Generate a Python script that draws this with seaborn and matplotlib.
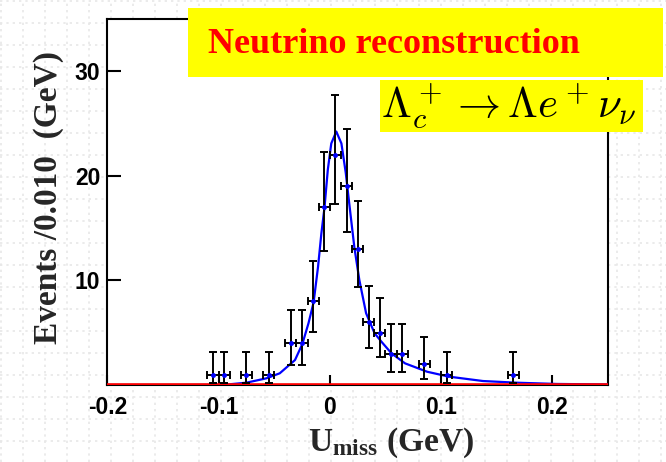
"""
plot.py
Missing-energy (U_miss) distribution with fit, Lambda_c -> Lambda e nu
"""

import matplotlib
matplotlib.use("Agg")
import matplotlib.pyplot as plt
from matplotlib.patches import Rectangle
import numpy as np
import seaborn as sns

# Histogram, bin width 0.010 GeV
BIN_CENTERS = [-0.105, -0.095, -0.075, -0.055, -0.035, -0.025, -0.015, -0.005,
               0.005, 0.015, 0.025, 0.035, 0.045, 0.055, 0.065, 0.085, 0.105, 0.165]
COUNTS = [1, 1, 1, 1, 4, 4, 8, 17, 22, 19, 13, 6, 5, 3, 3, 2, 1, 1]
ERR_LOW = [0.83, 0.83, 0.83, 0.83, 2.1, 2.1, 2.9, 4.2, 4.7, 4.4, 3.65,
           2.5, 2.3, 1.8, 1.8, 1.45, 0.83, 0.83]
ERR_HIGH = [2.2, 2.2, 2.2, 2.2, 3.18, 3.18, 3.87, 5.27, 5.75, 5.5, 4.6,
            3.5, 3.3, 2.84, 2.84, 2.6, 2.2, 2.2]
BIN_HALF_WIDTH = 0.005

# Fit curve
FIT_X = [-0.200, -0.130, -0.110, -0.094, -0.075, -0.057, -0.045, -0.0313,
         -0.0247, -0.0192, -0.0146, -0.0106, -0.0076, -0.0048, -0.0018, 0.0013,
         0.0058, 0.0104, 0.0143, 0.0174, 0.022, 0.0265, 0.0326, 0.0402, 0.0463,
         0.0554, 0.0676, 0.0874, 0.107, 0.1376, 0.168, 0.204, 0.250]
FIT_Y = [0.0, 0.0, 0.01, 0.03, 0.22, 0.64, 1.12, 2.39,
         3.92, 5.9, 7.9, 11.3, 14.5, 16.97, 20.6, 23.1,
         24.24, 23.1, 20.3, 17.4, 13.2, 10.05, 6.86, 4.95, 4.15,
         3.03, 2.07, 1.27, 0.8, 0.38, 0.22, 0.1, 0.05]

# Background component (flat, zero)
BKG_X = [-0.2, 0.25]
BKG_Y = [0.0, 0.0]

X_TICKS = [-0.2, -0.1, 0.0, 0.1, 0.2]
X_TICK_LABELS = ["-0.2", "-0.1", "0", "0.1", "0.2"]
Y_TICKS = [10, 20, 30]
Y_TICK_LABELS = ["10", "20", "30"]

W, H = 666, 462


def fig_box(x0, y0, x1, y1):
    """pixel box (top-left origin) -> figure fraction rect"""
    return [x0 / W, 1 - y1 / H, (x1 - x0) / W, (y1 - y0) / H]


def draw_background(fig):
    # faint dotted slide grid behind everything
    bg = fig.add_axes([0, 0, 1, 1], zorder=0)
    bg.set_xlim(0, W)
    bg.set_ylim(H, 0)
    bg.axis("off")
    for v in np.arange(1, W, 22):
        bg.axvline(v, color="#e8e8e8", lw=1.2, ls=(0, (1.4, 2.4)))
    for h in np.arange(1, H, 22):
        bg.axhline(h, color="#e8e8e8", lw=1.2, ls=(0, (1.4, 2.4)))


def add_banner(fig, box, text, **kw):
    x0, y0, w, h = fig_box(*box)
    fig.add_artist(Rectangle((x0, y0), w, h, transform=fig.transFigure,
                             facecolor="#ffff00", edgecolor="none", zorder=10))


def main():
    sns.set_style("ticks")
    plt.rcParams["mathtext.rm"] = "Liberation Serif:bold"
    plt.rcParams["mathtext.it"] = "Liberation Serif:bold"
    plt.rcParams["mathtext.bf"] = "Liberation Serif:bold"

    fig = plt.figure(figsize=(W / 100, H / 100), dpi=100)
    fig.patch.set_facecolor("white")
    draw_background(fig)

    ax = fig.add_axes(fig_box(107.3, 19, 608, 385), zorder=1)
    ax.set_facecolor("white")

    sns.lineplot(x=FIT_X, y=FIT_Y, ax=ax, color="blue", lw=1.6, zorder=3)
    sns.lineplot(x=BKG_X, y=BKG_Y, ax=ax, color="red", lw=2.6, zorder=4)
    ax.errorbar(BIN_CENTERS, COUNTS, yerr=[ERR_LOW, ERR_HIGH], xerr=BIN_HALF_WIDTH,
                fmt="o", ms=2.5, color="blue", ecolor="black", elinewidth=1.4,
                capsize=3, capthick=1.4, zorder=5)

    ax.set_xlim(-0.2, 0.25)
    ax.set_ylim(0, 35)
    ax.set_xticks(X_TICKS)
    ax.set_xticklabels(X_TICK_LABELS)
    ax.set_yticks(Y_TICKS)
    ax.set_yticklabels(Y_TICK_LABELS)
    for lab in ax.get_xticklabels() + ax.get_yticklabels():
        lab.set_family("Liberation Sans")
        lab.set_fontweight("bold")
        lab.set_fontsize(16.5)
    ax.tick_params(axis="both", direction="in", width=1.5, colors="black")
    ax.tick_params(axis="x", length=7, pad=8)
    ax.tick_params(axis="y", length=10, pad=5)
    for sp in ax.spines.values():
        sp.set_linewidth(1.5)
        sp.set_color("black")

    ax.set_ylabel("Events /0.010  (GeV)", family="Liberation Serif",
                  fontweight="bold", fontsize=24, va="center")
    ax.yaxis.set_label_coords(-0.1184, 0.512)
    ax.set_xlabel(r"$\mathbf{U_{miss}\ (GeV)}$", fontsize=24,
                  math_fontfamily="custom", va="baseline")
    ax.xaxis.set_label_coords(0.5666, -0.18)

    # yellow banners
    add_banner(fig, (188, 8, 663, 77), None)
    fig.text(208 / W, 1 - 53 / H, "Neutrino reconstruction", color="#ff0000",
             family="Liberation Serif", fontweight="bold", fontsize=26,
             ha="left", va="baseline", zorder=11)
    add_banner(fig, (380, 80, 643, 132), None)
    fig.text(381 / W, 1 - 118 / H, r"$\Lambda_c^+ \rightarrow \Lambda e^+ \nu_\nu$",
             color="black", fontsize=31, math_fontfamily="cm",
             ha="left", va="baseline", zorder=11)

    fig.savefig("out.png", dpi=100)


if __name__ == "__main__":
    main()
